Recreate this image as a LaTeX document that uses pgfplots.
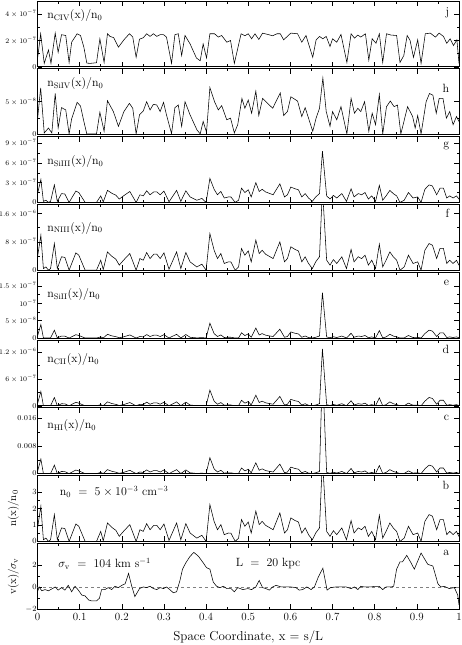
\documentclass[border=0pt]{standalone}
\usepackage{pgfplots}
\usepackage{pgfplotstable}
\pgfplotsset{compat=1.18}

% density n(x)/n_0 and ion columns: c = HI [1e-3], d = CII [1e-7], e = SiII [1e-8], f = NIII [1e-7], g = SiIII [1e-7]
\pgfplotstableread{
x n c d e f g
0.000 0.80 0.59 0.45 0.54 3.68 1.30
0.008 2.14 4.20 3.21 3.89 9.84 3.49
0.014 0.10 0.01 0.01 0.01 0.46 0.16
0.020 0.20 0.04 0.03 0.03 0.92 0.33
0.026 0.00 0.00 0.00 0.00 0.00 0.00
0.031 0.10 0.01 0.01 0.01 0.46 0.16
0.040 1.63 2.44 1.86 2.26 7.50 2.66
0.047 0.10 0.01 0.01 0.01 0.46 0.16
0.057 0.82 0.62 0.47 0.57 3.77 1.34
0.065 0.78 0.56 0.43 0.52 3.59 1.27
0.075 0.00 0.00 0.00 0.00 0.00 0.00
0.091 1.06 1.03 0.79 0.96 4.88 1.73
0.098 0.92 0.78 0.59 0.72 4.23 1.50
0.113 0.00 0.00 0.00 0.00 0.00 0.00
0.140 0.00 0.00 0.00 0.00 0.00 0.00
0.150 0.61 0.34 0.26 0.32 2.81 0.99
0.156 0.04 0.00 0.00 0.00 0.18 0.07
0.166 1.12 1.15 0.88 1.07 5.15 1.83
0.176 0.86 0.68 0.52 0.63 3.96 1.40
0.186 0.67 0.41 0.31 0.38 3.08 1.09
0.194 0.31 0.09 0.07 0.08 1.43 0.51
0.204 0.61 0.34 0.26 0.32 2.81 0.99
0.219 1.02 0.95 0.73 0.88 4.69 1.66
0.234 0.00 0.00 0.00 0.00 0.00 0.00
0.243 0.71 0.46 0.35 0.43 3.27 1.16
0.251 0.61 0.34 0.26 0.32 2.81 0.99
0.259 1.08 1.07 0.82 0.99 4.97 1.76
0.267 0.71 0.46 0.35 0.43 3.27 1.16
0.276 0.98 0.88 0.67 0.82 4.51 1.60
0.283 0.98 0.88 0.67 0.82 4.51 1.60
0.291 0.71 0.46 0.35 0.43 3.27 1.16
0.300 1.06 1.03 0.79 0.96 4.88 1.73
0.312 0.06 0.00 0.00 0.00 0.28 0.10
0.330 1.12 1.15 0.88 1.07 5.15 1.83
0.340 0.10 0.01 0.01 0.01 0.46 0.16
0.352 1.08 1.07 0.82 0.99 4.97 1.76
0.362 0.51 0.24 0.18 0.22 2.35 0.83
0.378 0.20 0.04 0.03 0.03 0.92 0.33
0.390 0.37 0.13 0.10 0.12 1.70 0.60
0.400 0.00 0.00 0.00 0.00 0.00 0.00
0.409 2.24 4.60 3.51 4.27 10.30 3.65
0.419 1.22 1.37 1.04 1.27 5.61 1.99
0.427 0.71 0.46 0.35 0.43 3.27 1.16
0.435 1.02 0.95 0.73 0.88 4.69 1.66
0.443 0.41 0.15 0.12 0.14 1.89 0.67
0.453 0.51 0.24 0.18 0.22 2.35 0.83
0.459 0.50 0.23 0.18 0.21 2.30 0.82
0.469 0.00 0.00 0.00 0.00 0.00 0.00
0.477 0.20 0.04 0.03 0.03 0.92 0.33
0.484 1.33 1.62 1.24 1.50 6.12 2.17
0.492 0.92 0.78 0.59 0.72 4.23 1.50
0.500 1.18 1.28 0.97 1.18 5.43 1.92
0.507 0.51 0.24 0.18 0.22 2.35 0.83
0.518 1.84 3.11 2.37 2.88 8.46 3.00
0.526 1.02 0.95 0.73 0.88 4.69 1.66
0.533 1.22 1.37 1.04 1.27 5.61 1.99
0.541 0.98 0.88 0.67 0.82 4.51 1.60
0.549 0.86 0.68 0.52 0.63 3.96 1.40
0.559 0.71 0.46 0.35 0.43 3.27 1.16
0.575 1.73 2.74 2.09 2.54 7.96 2.82
0.586 0.51 0.24 0.18 0.22 2.35 0.83
0.593 0.71 0.46 0.35 0.43 3.27 1.16
0.601 1.43 1.88 1.43 1.74 6.58 2.33
0.611 1.27 1.48 1.13 1.37 5.84 2.07
0.619 1.18 1.28 0.97 1.18 5.43 1.92
0.627 0.51 0.24 0.18 0.22 2.35 0.83
0.635 0.82 0.62 0.47 0.57 3.77 1.34
0.643 0.41 0.15 0.12 0.14 1.89 0.67
0.652 0.10 0.01 0.01 0.01 0.46 0.16
0.660 0.51 0.24 0.18 0.22 2.35 0.83
0.669 0.82 0.62 0.47 0.57 3.77 1.34
0.676 5.00 30.0 12.7 13.1 23.0 7.80
0.686 0.61 0.34 0.26 0.32 2.81 0.99
0.694 0.31 0.09 0.07 0.08 1.43 0.51
0.702 0.65 0.39 0.30 0.36 2.99 1.06
0.710 0.41 0.15 0.12 0.14 1.89 0.67
0.722 0.82 0.62 0.47 0.57 3.77 1.34
0.733 0.10 0.01 0.01 0.01 0.46 0.16
0.744 1.27 1.48 1.13 1.37 5.84 2.07
0.751 0.51 0.24 0.18 0.22 2.35 0.83
0.761 0.82 0.62 0.47 0.57 3.77 1.34
0.769 0.71 0.46 0.35 0.43 3.27 1.16
0.777 0.92 0.78 0.59 0.72 4.23 1.50
0.785 0.31 0.09 0.07 0.08 1.43 0.51
0.793 0.61 0.34 0.26 0.32 2.81 0.99
0.802 0.10 0.01 0.01 0.01 0.46 0.16
0.811 1.59 2.32 1.77 2.15 7.31 2.59
0.819 0.20 0.04 0.03 0.03 0.92 0.33
0.827 0.61 0.34 0.26 0.32 2.81 0.99
0.836 1.12 1.15 0.88 1.07 5.15 1.83
0.844 0.82 0.62 0.47 0.57 3.77 1.34
0.852 0.61 0.34 0.26 0.32 2.81 0.99
0.860 0.00 0.00 0.00 0.00 0.00 0.00
0.870 0.20 0.04 0.03 0.03 0.92 0.33
0.880 0.92 0.78 0.59 0.72 4.23 1.50
0.891 0.41 0.15 0.12 0.14 1.89 0.67
0.902 0.51 0.24 0.18 0.22 2.35 0.83
0.910 0.00 0.00 0.00 0.00 0.00 0.00
0.919 1.22 1.37 1.04 1.27 5.61 1.99
0.929 1.63 2.44 1.86 2.26 7.50 2.66
0.937 1.53 2.15 1.64 1.99 7.04 2.49
0.947 0.71 0.46 0.35 0.43 3.27 1.16
0.955 1.33 1.62 1.24 1.50 6.12 2.17
0.963 1.33 1.62 1.24 1.50 6.12 2.17
0.971 0.41 0.15 0.12 0.14 1.89 0.67
0.978 0.61 0.34 0.26 0.32 2.81 0.99
0.986 0.41 0.15 0.12 0.14 1.89 0.67
0.994 0.61 0.34 0.26 0.32 2.81 0.99
1.000 0.30 0.08 0.06 0.08 1.38 0.49
}\dens

% CIV [1e-7]
\pgfplotstableread{
x y
0.000 0.59
0.0075 2.51
0.016 0.26
0.026 1.28
0.032 0.26
0.042 2.56
0.049 1.10
0.057 2.44
0.067 2.38
0.075 0.33
0.081 1.87
0.094 2.51
0.102 2.38
0.110 1.49
0.117 0.28
0.125 0.26
0.140 0.31
0.148 2.13
0.158 0.33
0.166 2.51
0.172 2.31
0.181 2.21
0.192 1.49
0.205 2.05
0.218 2.51
0.226 2.26
0.234 0.72
0.242 2.10
0.251 2.21
0.259 2.51
0.267 2.31
0.275 2.51
0.283 2.31
0.291 2.44
0.299 2.44
0.306 2.26
0.318 0.26
0.326 2.44
0.334 2.51
0.342 0.85
0.350 2.38
0.362 1.74
0.377 0.67
0.386 0.46
0.393 1.74
0.401 0.67
0.409 2.51
0.420 2.51
0.429 2.26
0.437 2.38
0.449 1.87
0.458 2.00
0.467 0.26
0.483 2.51
0.492 2.36
0.500 2.51
0.508 2.13
0.516 2.51
0.525 2.08
0.534 2.56
0.546 2.46
0.558 2.36
0.568 2.51
0.576 2.51
0.584 2.05
0.601 2.56
0.617 2.51
0.627 1.87
0.637 2.38
0.653 0.72
0.661 2.05
0.669 2.31
0.677 2.13
0.685 2.31
0.694 1.54
0.700 2.13
0.710 1.87
0.720 2.46
0.734 0.33
0.744 2.51
0.752 2.18
0.760 2.41
0.767 2.26
0.778 2.51
0.786 0.51
0.794 2.13
0.803 1.79
0.811 2.51
0.819 0.33
0.828 2.51
0.839 2.41
0.852 2.38
0.860 0.33
0.869 0.85
0.877 2.38
0.884 2.00
0.892 0.72
0.902 2.05
0.910 0.26
0.920 2.51
0.932 2.56
0.944 2.26
0.953 2.56
0.963 2.31
0.971 1.79
0.979 2.13
0.987 1.62
0.995 2.05
1.000 0.26
}\civ

% SiIV [1e-8]
\pgfplotstableread{
x y
0.000 2.25
0.0075 7.10
0.016 0.25
0.026 1.00
0.034 0.25
0.042 6.25
0.049 1.00
0.057 4.10
0.067 3.75
0.075 0.10
0.081 2.40
0.094 4.90
0.102 4.35
0.110 2.00
0.117 0.10
0.140 0.10
0.148 3.40
0.158 0.50
0.166 5.15
0.180 3.50
0.192 1.25
0.205 3.50
0.218 4.75
0.226 4.00
0.234 0.10
0.242 3.00
0.251 3.60
0.259 5.00
0.267 3.75
0.275 4.60
0.283 4.50
0.291 3.50
0.299 4.90
0.306 3.00
0.318 0.15
0.326 4.10
0.334 4.50
0.342 1.25
0.350 5.00
0.362 3.00
0.378 0.75
0.386 0.10
0.393 2.00
0.401 0.35
0.409 7.15
0.420 5.00
0.429 3.75
0.437 4.40
0.449 2.25
0.458 2.50
0.467 0.25
0.475 1.50
0.485 5.50
0.492 4.00
0.500 5.25
0.508 3.25
0.518 6.60
0.525 2.90
0.534 5.50
0.546 4.75
0.558 4.00
0.576 6.35
0.584 2.90
0.593 3.50
0.601 5.75
0.617 5.10
0.627 2.75
0.635 4.10
0.653 0.50
0.661 2.50
0.669 4.00
0.677 8.60
0.685 3.50
0.694 1.25
0.700 3.50
0.710 2.25
0.720 4.25
0.734 0.10
0.744 5.50
0.752 3.25
0.760 4.00
0.767 3.50
0.776 5.00
0.786 0.50
0.794 3.25
0.802 1.50
0.811 6.10
0.819 0.10
0.828 4.25
0.837 5.10
0.846 4.25
0.854 4.50
0.862 0.10
0.878 4.25
0.890 2.75
0.896 1.00
0.902 2.90
0.910 0.10
0.922 5.00
0.930 6.25
0.938 6.00
0.946 3.25
0.953 5.50
0.962 5.50
0.970 2.50
0.978 3.50
0.986 1.50
0.994 2.75
1.000 2.00
}\siiv

% v(x)/sigma_v
\pgfplotstableread{
x y
0.000 -0.41
0.004 0.03
0.010 -0.32
0.018 -0.21
0.026 -0.32
0.034 -0.15
0.042 0.03
0.049 -0.26
0.057 -0.03
0.065 -0.26
0.073 0.18
0.081 -0.41
0.089 0.09
0.097 -0.26
0.105 -0.71
0.113 -0.79
0.121 -1.15
0.128 -1.24
0.140 -1.24
0.147 -1.00
0.152 -0.21
0.160 -0.21
0.168 -0.03
0.176 -0.21
0.184 0.09
0.192 -0.03
0.200 0.18
0.208 0.32
0.216 1.26
0.223 0.18
0.231 -0.85
0.242 -0.12
0.251 0.03
0.259 -0.03
0.267 0.09
0.275 -0.12
0.283 -0.21
0.291 -0.03
0.299 -0.12
0.306 0.03
0.314 -0.21
0.322 -0.50
0.330 -0.41
0.338 0.62
0.344 1.65
0.352 2.24
0.362 2.82
0.371 3.18
0.382 2.82
0.393 2.24
0.401 1.79
0.409 1.65
0.417 0.47
0.425 0.09
0.433 -0.03
0.441 0.09
0.449 -0.12
0.459 -0.12
0.467 -0.41
0.475 -0.03
0.487 -0.21
0.499 -0.12
0.508 -0.21
0.518 0.03
0.526 0.62
0.534 -0.03
0.542 -0.12
0.550 -0.26
0.558 0.03
0.566 0.18
0.578 0.03
0.589 0.03
0.601 0.03
0.613 -0.03
0.621 -0.26
0.629 -0.21
0.639 0.03
0.649 -0.21
0.657 0.03
0.666 0.91
0.677 1.74
0.687 -0.26
0.695 -0.03
0.708 0.03
0.720 0.03
0.732 0.03
0.744 -0.12
0.752 0.03
0.760 -0.21
0.767 0.09
0.775 0.03
0.783 0.03
0.791 0.03
0.799 0.09
0.811 0.09
0.819 -0.21
0.827 0.03
0.839 0.03
0.845 0.09
0.852 1.65
0.860 2.32
0.866 2.32
0.876 2.91
0.886 2.24
0.894 1.65
0.910 3.12
0.926 2.09
0.938 1.94
0.950 0.32
0.957 0.03
0.965 0.09
0.977 -0.12
0.989 -0.03
0.997 -0.71
1.000 -1.60
}\vel

\newcommand\lab{\fontsize{12}{14}\selectfont}
\pgfplotsset{
  panel/.style={
    scale only axis, width=421.5bp, height=65.8bp,
    xmin=0, xmax=1, anchor=north west,
    xtick={0,0.1,0.2,0.3,0.4,0.5,0.6,0.7,0.8,0.9,1},
    minor x tick num=1, xticklabels={},
    minor y tick num=1,
    tick align=inside,
    major tick length=5bp, minor tick length=2.5bp,
    tick style={black, line width=0.5pt},
    axis line style={black, line width=0.7pt},
    scaled ticks=false,
    yticklabel style={font=\fontsize{7.4}{8}\selectfont, inner sep=0.8pt},
  },
  trace/.style={black, line width=0.55pt, mark=none},
}

\begin{document}
\begin{tikzpicture}

% j
\begin{axis}[panel, at={(0,0)}, ymin=0, ymax=5, ytick={0,2,4},
  yticklabels={0,$2\times10^{-7}$,$4\times10^{-7}$}]
\addplot[trace] table[x=x,y=y] {\civ};
\node[anchor=west,font=\lab] at (rel axis cs:0.015,0.78) {$\mathrm{n_{CIV}(x)/n_0}$};
\node[anchor=east,font=\lab] at (rel axis cs:0.985,0.82) {j};
\end{axis}

% h
\begin{axis}[panel, at={(0,-67.8bp)}, ymin=0, ymax=10, ytick={0,5},
  yticklabels={0,$5\times10^{-8}$}]
\addplot[trace] table[x=x,y=y] {\siiv};
\node[anchor=west,font=\lab] at (rel axis cs:0.015,0.78) {$\mathrm{n_{SiIV}(x)/n_0}$};
\node[anchor=east,font=\lab] at (rel axis cs:0.985,0.70) {h};
\end{axis}

% g
\begin{axis}[panel, at={(0,-135.6bp)}, ymin=0, ymax=10, ytick={0,3,6,9},
  yticklabels={0,$3\times10^{-7}$,$6\times10^{-7}$,$9\times10^{-7}$}]
\addplot[trace] table[x=x,y=g] {\dens};
\node[anchor=west,font=\lab] at (rel axis cs:0.015,0.62) {$\mathrm{n_{SiIII}(x)/n_0}$};
\node[anchor=east,font=\lab] at (rel axis cs:0.985,0.86) {g};
\end{axis}

% f
\begin{axis}[panel, at={(0,-203.4bp)}, ymin=0, ymax=18.5, ytick={0,8,16},
  yticklabels={0,$8\times10^{-7}$,$1.6\times10^{-6}$}]
\addplot[trace] table[x=x,y=f] {\dens};
\node[anchor=west,font=\lab] at (rel axis cs:0.015,0.64) {$\mathrm{n_{NIII}(x)/n_0}$};
\node[anchor=east,font=\lab] at (rel axis cs:0.985,0.86) {f};
\end{axis}

% e
\begin{axis}[panel, at={(0,-271.2bp)}, ymin=0, ymax=19, ytick={0,5,10,15},
  yticklabels={0,$5\times10^{-8}$,$10^{-7}$,$1.5\times10^{-7}$}]
\addplot[trace] table[x=x,y=e] {\dens};
\node[anchor=west,font=\lab] at (rel axis cs:0.015,0.66) {$\mathrm{n_{SiII}(x)/n_0}$};
\node[anchor=east,font=\lab] at (rel axis cs:0.985,0.84) {e};
\end{axis}

% d
\begin{axis}[panel, at={(0,-339bp)}, ymin=0, ymax=14.7, ytick={0,6,12},
  yticklabels={0,$6\times10^{-7}$,$1.2\times10^{-6}$}]
\addplot[trace] table[x=x,y=d] {\dens};
\node[anchor=west,font=\lab] at (rel axis cs:0.015,0.70) {$\mathrm{n_{CII}(x)/n_0}$};
\node[anchor=east,font=\lab] at (rel axis cs:0.985,0.85) {d};
\end{axis}

% c
\begin{axis}[panel, at={(0,-406.8bp)}, ymin=0, ymax=19, ytick={0,8,16},
  yticklabels={0,0.008,0.016}]
\addplot[trace] table[x=x,y=c] {\dens};
\node[anchor=west,font=\lab] at (rel axis cs:0.015,0.73) {$\mathrm{n_{HI}(x)/n_0}$};
\node[anchor=east,font=\lab] at (rel axis cs:0.985,0.85) {c};
\end{axis}

% b
\begin{axis}[panel, at={(0,-474.6bp)}, ymin=0, ymax=4, ytick={0,1,2,3},
  yticklabel style={font=\fontsize{8.5}{9}\selectfont},
  ylabel={$\mathrm{n(x)/n_0}$},
  ylabel style={at={(rel axis cs:-0.057,0.5)}, anchor=center, font=\fontsize{11}{12}\selectfont}]
\addplot[trace] table[x=x,y=n] {\dens};
\node[anchor=west,font=\lab] at (rel axis cs:0.045,0.75) {$\mathrm{n_0}\ =\ 5\times10^{-3}\ \mathrm{cm^{-3}}$};
\node[anchor=east,font=\lab] at (rel axis cs:0.985,0.85) {b};
\end{axis}

% a
\begin{axis}[panel, at={(0,-542.4bp)}, ymin=-2, ymax=4, ytick={-2,0,2},
  yticklabel style={font=\fontsize{8.5}{9}\selectfont},
  xticklabels={0,0.1,0.2,0.3,0.4,0.5,0.6,0.7,0.8,0.9,1},
  xticklabel style={font=\fontsize{11}{12}\selectfont},
  xlabel={Space Coordinate, x = s/L},
  xlabel style={at={(axis description cs:0.5,-0.43)}, anchor=center, font=\fontsize{13}{15}\selectfont},
  ylabel={$\mathrm{v(x)}/\sigma_{\mathrm{v}}$},
  ylabel style={at={(rel axis cs:-0.057,0.5)}, anchor=center, font=\fontsize{11}{12}\selectfont}]
\addplot[gray, dashed, line width=0.4pt] coordinates {(0,0) (1,0)};
\addplot[trace] table[x=x,y=y] {\vel};
\node[anchor=west,font=\lab] at (rel axis cs:0.041,0.69) {$\sigma_{\mathrm{v}}\ =\ 104\ \mathrm{km\ s^{-1}}$};
\node[anchor=west,font=\lab] at (rel axis cs:0.462,0.69) {$\mathrm{L\ =\ 20\ kpc}$};
\node[anchor=east,font=\lab] at (rel axis cs:0.985,0.86) {a};
\end{axis}

\pgfresetboundingbox
\path[use as bounding box] (-37.5bp,1bp) rectangle (424.5bp,-644bp);
\end{tikzpicture}
\end{document}
